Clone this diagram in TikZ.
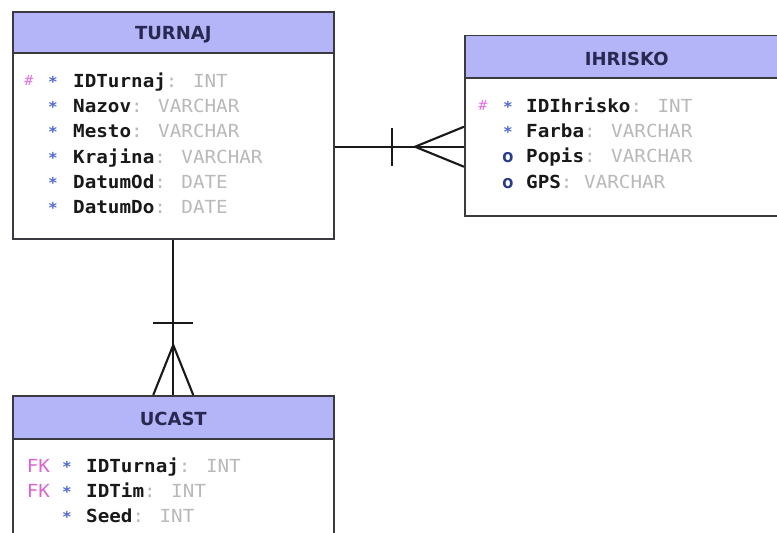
\documentclass[tikz,border=0pt]{standalone}
\usepackage{fontspec}
\setmainfont{DejaVu Sans}
\newfontfamily\rowfont[FakeStretch=1.07]{DejaVu Sans Mono}
\newfontfamily\headfont{DejaVu Sans}
\usetikzlibrary{calc}

\definecolor{headfill}{RGB}{180,180,248}
\definecolor{boxline}{RGB}{58,58,64}
\definecolor{headtext}{RGB}{40,40,80}
\definecolor{typegray}{RGB}{185,185,185}
\definecolor{pkpink}{RGB}{230,110,230}
\definecolor{fkpink}{RGB}{220,100,210}
\definecolor{starblue}{RGB}{80,105,215}
\definecolor{optblue}{RGB}{40,60,140}
\definecolor{fieldblack}{RGB}{25,25,25}

% one attribute line: id, x of key mark, x of symbol, x of field, baseline, key, symbol, field, type
\newcommand\fieldrow[9]{%
  \node[keymark] (#1k) at (#2,#5) {#6};
  \node[symmark] (#1s) at (#3,#5) {#7};
  \node[fieldtxt] (#1f) at (#4,#5) {\textbf{#8}\textcolor{typegray}{: #9}};
}

\begin{document}
\begin{tikzpicture}[x=1pt,y=-1pt,
  enthead/.style={draw=boxline, line width=1.5pt, fill=headfill, inner sep=0pt, anchor=north west},
  entbody/.style={draw=boxline, line width=1.5pt, fill=white, inner sep=0pt, anchor=north west},
  titletxt/.style={font=\headfont\bfseries\fontsize{18}{20}\selectfont, text=headtext, inner sep=0pt},
  fieldtxt/.style={font=\rowfont\fontsize{18}{20}\selectfont, text=fieldblack, inner sep=0pt, anchor=base west},
  keymark/.style={font=\rowfont\fontsize{18}{20}\selectfont, inner sep=0pt, anchor=base},
  symmark/.style={font=\rowfont\fontsize{18}{20}\selectfont, inner sep=0pt, anchor=base},
  conn/.style={draw=black!90, line width=2.1pt}
]
\useasboundingbox (0,0) rectangle (777,533);
\clip (0,0) rectangle (777,533);
\fill[white] (0,0) rectangle (777,533);

% ---- TURNAJ ----
\node[entbody, minimum width=321, minimum height=186] (turnajBody) at (12,52) {};
\node[enthead, minimum width=321, minimum height=41] (turnajHead) at (12,11) {};
\node[titletxt] (turnajTitle) at ($(turnajHead.center)+(0,2.5)$) {TURNAJ};

% ---- IHRISKO ----
\node[entbody, minimum width=324, minimum height=138] (ihrBody) at (464,77) {};
\node[enthead, minimum width=324, minimum height=42.5] (ihrHead) at (464,34.5) {};
\node[titletxt] (ihrTitle) at ($(ihrHead.center)+(0,2)$) {IHRISKO};

% ---- UCAST ----
\node[entbody, minimum width=321, minimum height=130] (ucastBody) at (12,438) {};
\node[enthead, minimum width=321, minimum height=43] (ucastHead) at (12,395) {};
\node[titletxt] (ucastTitle) at ($(ucastHead.center)+(0,2)$) {UCAST};

% attribute marks
\newcommand\pk{\textcolor{pkpink}{\fontsize{14}{16}\selectfont\raisebox{2pt}{\#}}}
\newcommand\fk{\textcolor{fkpink}{FK}}
\newcommand\req{\textcolor{starblue}{\fontsize{15}{16}\selectfont\bfseries *}}
\newcommand\opt{\textcolor{optblue}{\textbf{o}}}

\fieldrow{ta}{29}{53}{73}{87.3}{\pk}{\req}{IDTurnaj}{INT}
\fieldrow{tb}{29}{53}{73}{112.6}{}{\req}{Nazov}{VARCHAR}
\fieldrow{tc}{29}{53}{73}{137.9}{}{\req}{Mesto}{VARCHAR}
\fieldrow{td}{29}{53}{73}{163.2}{}{\req}{Krajina}{VARCHAR}
\fieldrow{te}{29}{53}{73}{188.5}{}{\req}{DatumOd}{DATE}
\fieldrow{tf}{29}{53}{73}{213.8}{}{\req}{DatumDo}{DATE}

\fieldrow{ia}{483}{508}{526}{112.3}{\pk}{\req}{IDIhrisko}{INT}
\fieldrow{ib}{483}{508}{526}{137.6}{}{\req}{Farba}{VARCHAR}
\fieldrow{ic}{483}{508}{526}{162.9}{}{\opt}{Popis}{VARCHAR}
\fieldrow{id}{483}{508}{526}{188.2}{}{\opt}{GPS}{VARCHAR}

\fieldrow{ua}{38.5}{67}{86}{472.7}{\fk}{\req}{IDTurnaj}{INT}
\fieldrow{ub}{38.5}{67}{86}{497.7}{\fk}{\req}{IDTim}{INT}
\fieldrow{uc}{38.5}{67}{86}{522.7}{}{\req}{Seed}{INT}

% ---- TURNAJ 1 -- N IHRISKO ----
\draw[conn] (turnajBody.east |- ihrBody.west) -- (ihrBody.west);
\draw[conn] ($(ihrBody.west)+(-72,-19)$) -- ($(ihrBody.west)+(-72,19)$);
\draw[conn] ($(ihrBody.west)+(0,-20)$) -- ($(ihrBody.west)+(-49,0)$) -- ($(ihrBody.west)+(0,20)$);

% ---- TURNAJ 1 -- N UCAST ----
\draw[conn] (turnajBody.south) -- (ucastHead.north);
\draw[conn] ($(ucastHead.north)+(-20,-72)$) -- ($(ucastHead.north)+(20,-72)$);
\draw[conn] ($(ucastHead.north)+(-20,0)$) -- ($(ucastHead.north)+(0,-50)$) -- ($(ucastHead.north)+(20,0)$);
\end{tikzpicture}
\end{document}
